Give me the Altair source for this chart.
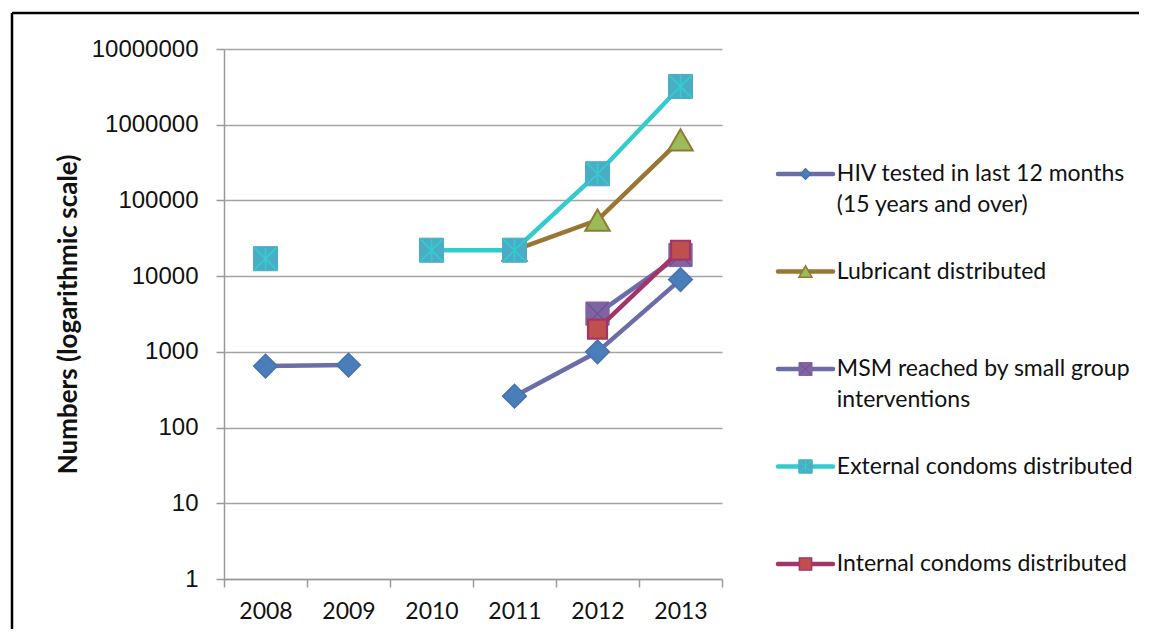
import altair as alt
import pandas as pd

# ---------------- data ----------------
years = ["2008", "2009", "2010", "2011", "2012", "2013"]

series_names = [
    "HIV tested in last 12 months (15 years and over)",
    "Lubricant distributed",
    "MSM reached by small group interventions",
    "External condoms distributed",
    "Internal condoms distributed",
]
legend_labels = [
    "HIV tested in last 12 months\n(15 years and over)",
    "Lubricant distributed",
    "MSM reached by small group\ninterventions",
    "External condoms distributed",
    "Internal condoms distributed",
]

hiv_tested = [650, 670, None, 260, 1000, 9000]
lubricant = [None, None, None, 22000, 55000, 630000]
msm_reached = [None, None, None, None, 3200, 19000]
external_condoms = [17000, None, 22000, 22000, 225000, 3200000]
internal_condoms = [None, None, None, None, 2000, 22000]

all_values = [hiv_tested, lubricant, msm_reached, external_condoms, internal_condoms]

# long table with path segments (a gap in a series breaks its line)
rows = []
for name, vals in zip(series_names, all_values):
    seg = 0
    prev_null = True
    for yr, v in zip(years, vals):
        if v is None:
            prev_null = True
            continue
        if prev_null:
            seg += 1
        prev_null = False
        rows.append({"series": name, "year": yr, "value": v, "seg": f"{name}-{seg}"})
df = pd.DataFrame(rows)

legend_df = pd.DataFrame({"series": series_names, "row": list(range(5)), "label": legend_labels})

# ---------------- styles ----------------
styles = {
    series_names[0]: dict(line="#6C6CA8", shape="diamond", fill="#4A7EBB", stroke="#4672B0", size=560, sw=1.5,
                          lshape="diamond", lsize=110, over=None),
    series_names[1]: dict(line="#9A7634", shape="triangle-up", fill="#9BBB59", stroke="#8F7A35", size=600, sw=2,
                          lshape="triangle-up", lsize=170, over=None),
    series_names[2]: dict(line="#6C6CA8", shape="square", fill="#8064A2", stroke="#8064A2", size=540, sw=1,
                          lshape="square", lsize=170, over=("M-1,-1L1,1M1,-1L-1,1", "#6A5192", 1.2)),
    series_names[3]: dict(line="#33CCCC", shape="square", fill="#4BACC6", stroke="#4BACC6", size=580, sw=1,
                          lshape="square", lsize=180, over=("M-1,-1L1,1M1,-1L-1,1M0,-1L0,1", "#33CCCC", 1.8)),
    series_names[4]: dict(line="#A3346A", shape="square", fill="#C0504D", stroke="#A3346A", size=360, sw=2.2,
                          lshape="square", lsize=150, over=None),
}

label_font = "Lato"

X = alt.X(
    "year:O",
    bandPosition=0.5,
    scale=alt.Scale(type="band", domain=years, paddingInner=0, paddingOuter=0),
    axis=alt.Axis(
        title=None, labelAngle=0, tickBand="extent", tickSize=8, tickWidth=1.5, tickColor="#9A9A9A",
        domainColor="#9A9A9A", domainWidth=1.5, labelFont=label_font, labelFontSize=23, labelColor="#111111",
        labelPadding=13, grid=False,
    ),
)
Y = alt.Y(
    "value:Q",
    scale=alt.Scale(type="log", domain=[1, 10000000], nice=False),
    axis=alt.Axis(
        values=[1, 10, 100, 1000, 10000, 100000, 1000000, 10000000], format="d",
        title="Numbers (logarithmic scale)", titleFont=label_font, titleFontWeight="bold", titleFontSize=26,
        titleColor="#111111", titlePadding=10,
        labelFont="Liberation Sans", labelFontSize=24, labelColor="#111111", labelPadding=18,
        tickSize=8, tickWidth=1.5, tickColor="#9A9A9A", domainColor="#9A9A9A", domainWidth=1.5,
        grid=True, gridColor="#A4A4A4", gridWidth=1.5,
    ),
)

main_layers = []
for name in series_names:
    st = styles[name]
    base = alt.Chart(df).transform_filter(alt.datum.series == name)
    main_layers.append(base.mark_line(color=st["line"], strokeWidth=4.5).encode(x=X, y=Y, detail="seg:N"))
    main_layers.append(
        base.mark_point(shape=st["shape"], filled=True, fill=st["fill"], stroke=st["stroke"],
                        strokeWidth=st["sw"], size=st["size"], opacity=1).encode(x=X, y=Y)
    )
    if st["over"]:
        path, col, w = st["over"]
        main_layers.append(
            base.mark_point(shape=path, filled=False, stroke=col, strokeWidth=w, size=st["size"] * 0.85,
                            opacity=1).encode(x=X, y=Y)
        )

# outer frame (top and left edges of the figure border)
frame_data = alt.Data(values=[{"f": 1}])
frame_top = alt.Chart(frame_data).mark_rule(color="black", strokeWidth=2.5).encode(
    x=alt.value(-212), x2=alt.value(915), y=alt.value(-36))
frame_left = alt.Chart(frame_data).mark_rule(color="black", strokeWidth=2.5).encode(
    x=alt.value(-212), y=alt.value(-36), y2=alt.value(580))

main = alt.layer(*main_layers, frame_top, frame_left)

# ---------------- legend (drawn through its own scales) ----------------
LX = alt.Scale(domain=[0, 1], range=[554, 609])
LY = alt.Scale(domain=[0, 4], range=[125, 515])

leg_layers = []
for name in series_names:
    st = styles[name]
    lb = alt.Chart(legend_df).transform_filter(alt.datum.series == name)
    leg_layers.append(
        lb.transform_calculate(x0="0", x1="1").mark_rule(color=st["line"], strokeWidth=4.5, strokeCap="round").encode(
            x=alt.X("x0:Q", scale=LX, axis=None), x2="x1:Q", y=alt.Y("row:Q", scale=LY, axis=None))
    )
    leg_layers.append(
        lb.transform_calculate(xm="0.5").mark_point(shape=st["lshape"], filled=True, fill=st["fill"],
                                                    stroke=st["stroke"], strokeWidth=min(st["sw"], 1.5),
                                                    size=st["lsize"], opacity=1).encode(
            x=alt.X("xm:Q", scale=LX, axis=None), y=alt.Y("row:Q", scale=LY, axis=None))
    )
    if st["over"]:
        path, col, w = st["over"]
        leg_layers.append(
            lb.transform_calculate(xm="0.5").mark_point(shape=path, filled=False, stroke=col, strokeWidth=1,
                                                        size=st["lsize"] * 0.85, opacity=1).encode(
                x=alt.X("xm:Q", scale=LX, axis=None), y=alt.Y("row:Q", scale=LY, axis=None))
        )

leg_text = alt.Chart(legend_df).transform_calculate(xt="1.07").mark_text(
    align="left", baseline="middle", lineBreak="\n", font=label_font, fontSize=23, lineHeight=31,
    color="#111111").encode(
    x=alt.X("xt:Q", scale=LX, axis=None), y=alt.Y("row:Q", scale=LY, axis=None), text="label:N")
leg_layers.append(leg_text)

legend = alt.layer(*leg_layers)

chart = (
    alt.layer(main, legend)
    .resolve_scale(x="independent", y="independent")
    .properties(width=498, height=530, padding={"left": 2, "top": 3, "right": 2, "bottom": 2},
                autosize=alt.AutoSizeParams(type="pad"), background="white")
    .configure_view(stroke=None)
)

chart.save("out.html", embed_options={"renderer": "svg", "actions": False})
